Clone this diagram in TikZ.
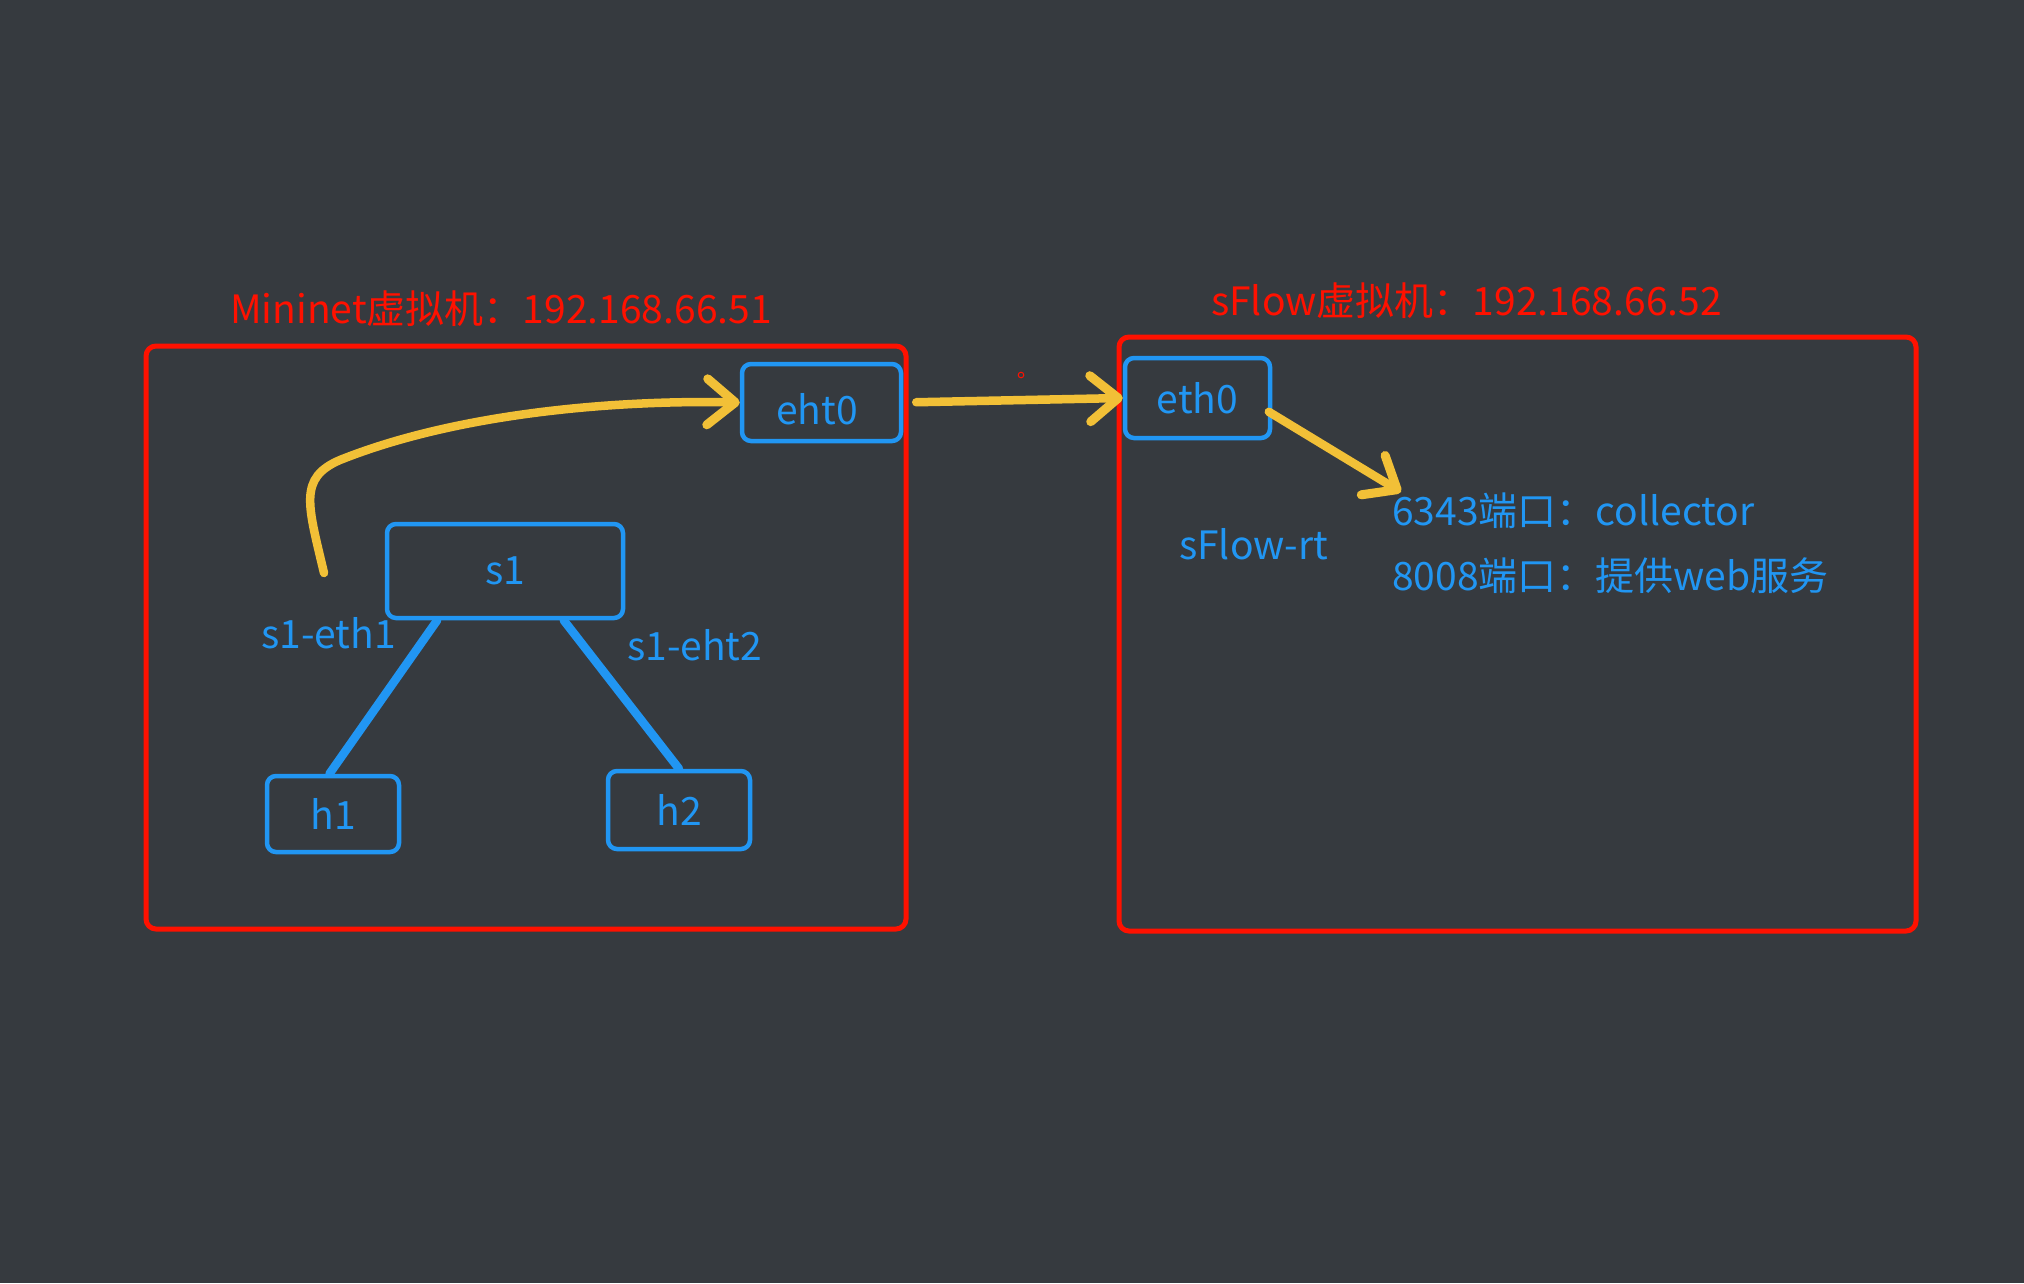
\documentclass[tikz,border=0pt]{standalone}
\usepackage{fontspec}
\setmainfont{Noto Sans CJK SC}
\usetikzlibrary{arrows.meta}
\definecolor{bg}{RGB}{54,58,63}
\definecolor{vmred}{RGB}{255,17,0}
\definecolor{netblue}{RGB}{33,150,243}
\definecolor{flowyellow}{RGB}{242,192,55}
\begin{document}
\begin{tikzpicture}[x=1pt,y=-1pt,
  vmbox/.style={draw=vmred, line width=5pt, rounded corners=10pt, inner sep=0pt},
  bbox/.style={draw=netblue, line width=4.5pt, rounded corners=9pt, inner sep=0pt, text=netblue, font=\fontsize{39}{46}\selectfont},
  link/.style={draw=netblue, line width=8.5pt, line cap=round},
  flow/.style={draw=flowyellow, line width=8.5pt, line cap=round,
    -{Straight Barb[length=28pt,width=46pt,round,line width=9pt]}},
  ttl/.style={text=vmred, anchor=base west, inner sep=0pt, font=\fontsize{39}{46}\selectfont},
  lbl/.style={text=netblue, anchor=base west, inner sep=0pt, font=\fontsize{39}{46}\selectfont}]
\fill[bg] (0,0) rectangle (2024,1283);
\useasboundingbox (0,0) rectangle (2024,1283);
% VM containers
\node[vmbox, minimum width=760pt, minimum height=583pt] (vm1) at (526,637.5) {};
\node[vmbox, minimum width=797pt, minimum height=594pt] (vm2) at (1517.5,634) {};
\node[ttl] (t1) at (230,323) {Mininet虚拟机：192.168.66.51};
\node[ttl] (t2) at (1211,315) {sFlow虚拟机：192.168.66.52};
% boxes
\node[bbox, minimum width=159pt, minimum height=77pt] (eht0) at (821.5,402.5) {};
\node[lbl, anchor=base] (eht0t) at (817,424) {eht0};
\node[bbox, minimum width=236pt, minimum height=94pt] (s1) at (505,571) {s1};
\node[bbox, minimum width=132pt, minimum height=76pt] (h1) at (333,814) {h1};
\node[bbox, minimum width=142pt, minimum height=78pt] (h2) at (679,810) {h2};
\node[bbox, minimum width=145pt, minimum height=80pt] (eth0) at (1197.5,398) {eth0};
% labels
\node[lbl] (p1) at (261,648) {s1-eth1};
\node[lbl] (p2) at (627,660) {s1-eht2};
\node[lbl] (rt) at (1179,559) {sFlow-rt};
\node[lbl] (c1) at (1392,525) {6343端口：collector};
\node[lbl] (c2) at (1392,590) {8008端口：提供web服务};
% links
\draw[link] (s1.216) -- (h1.95);
\draw[link] (s1.320) -- (h2.north);
% flows
\coordinate (fs) at (324,573);
\coordinate (tip) at (1401,492);
\draw[flow] (fs) .. controls (308,505) and (298,478) .. (340,460)
  .. controls (460,412) and (620,400) .. (eht0.west);
\draw[flow, shorten <=13pt] (eht0.east) -- (eth0.west);
\draw[flow, shorten <=-4pt] (eth0.-12) -- (tip);
% small mark
\draw[vmred, line width=1pt] (1021,375) circle (2.8);
\end{tikzpicture}
\end{document}
